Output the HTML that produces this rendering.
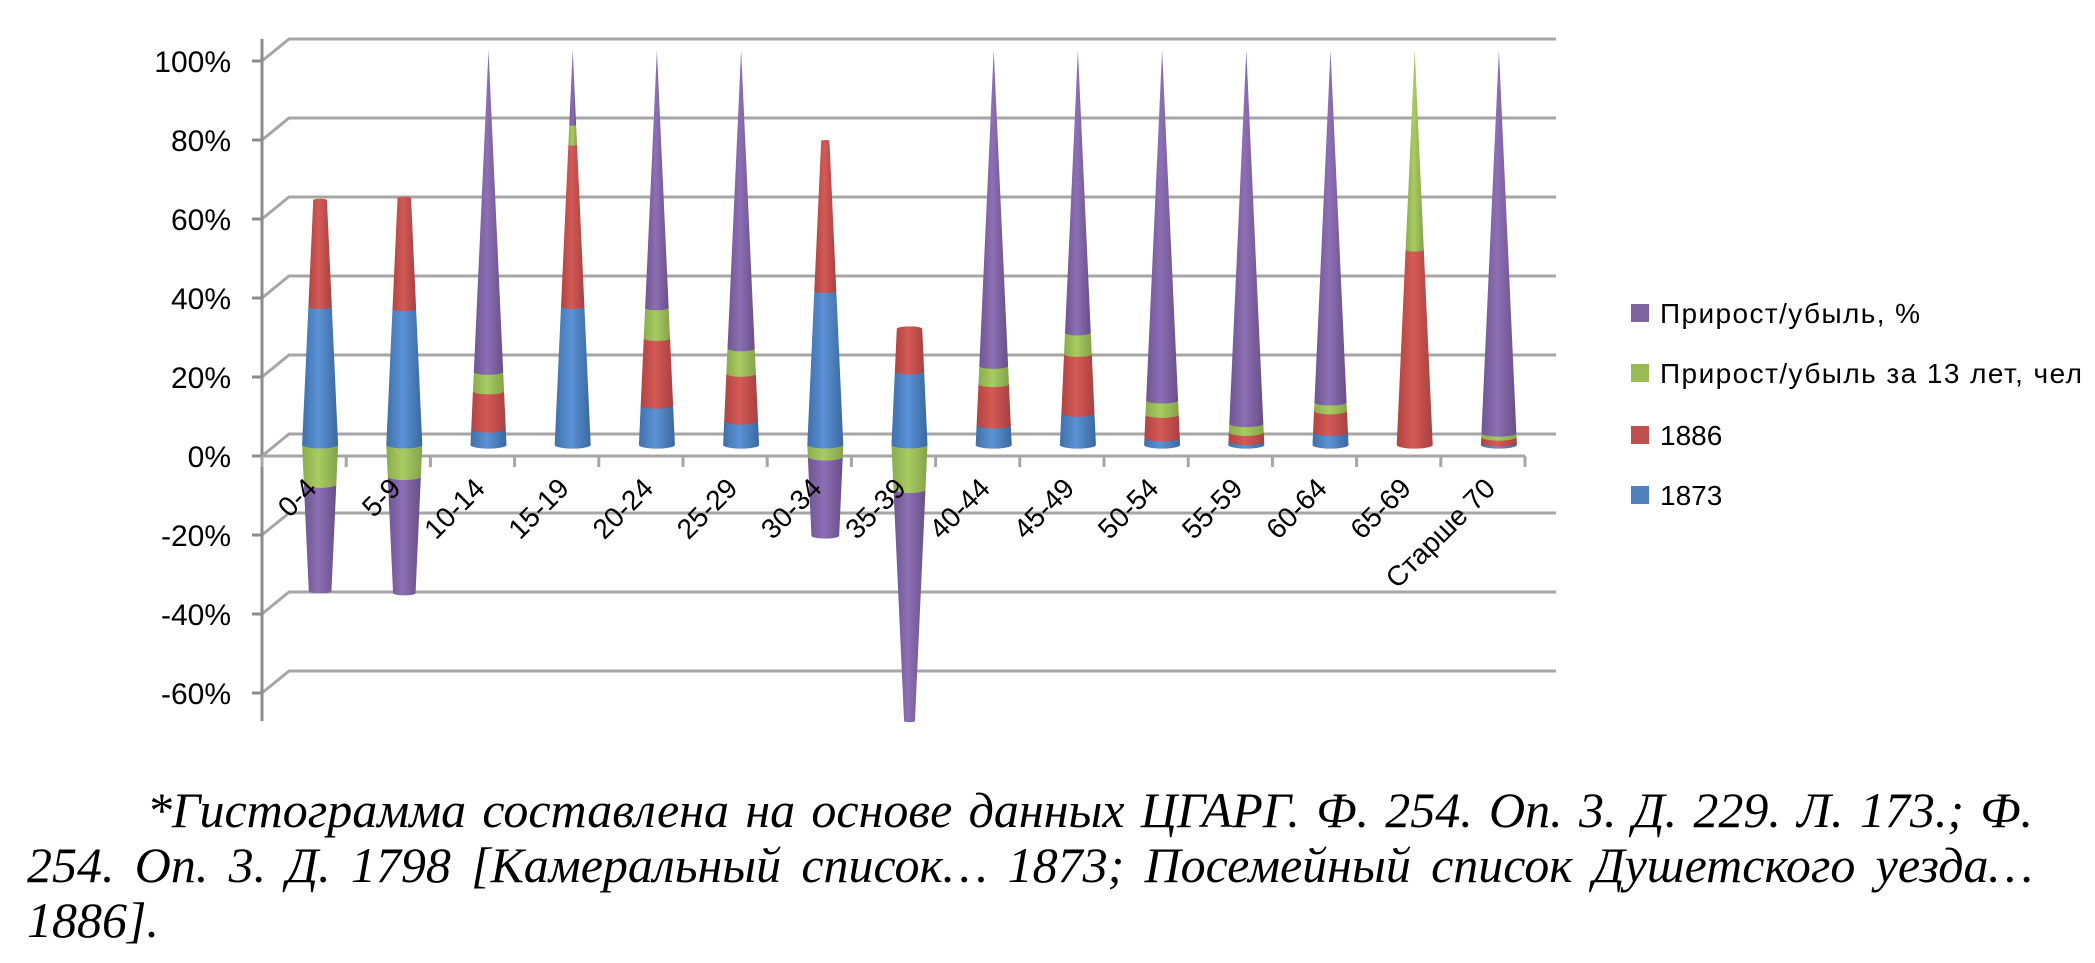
<!DOCTYPE html>
<html><head><meta charset="utf-8"><style>
html,body{margin:0;padding:0;background:#fff;}
body{width:2095px;height:963px;overflow:hidden;position:relative;}
svg{position:absolute;left:0;top:0;}
.cap{position:absolute;left:27px;top:783px;width:2006px;font-family:"Liberation Serif",serif;font-style:italic;font-size:50px;line-height:55px;color:#000;}
.cap div{white-space:nowrap;}
.j{text-align:justify;text-align-last:justify;white-space:normal!important;}
</style></head><body>
<svg id="chart" width="2095" height="780" xmlns="http://www.w3.org/2000/svg">
<defs>
<linearGradient id="gb" x1="0" x2="1"><stop offset="0" stop-color="#3f6fa8"/><stop offset="0.45" stop-color="#5b93d6"/><stop offset="1" stop-color="#3a68a0"/></linearGradient>
<linearGradient id="gr" x1="0" x2="1"><stop offset="0" stop-color="#b04441"/><stop offset="0.45" stop-color="#d45a56"/><stop offset="1" stop-color="#a84040"/></linearGradient>
<linearGradient id="gg" x1="0" x2="1"><stop offset="0" stop-color="#8aab4c"/><stop offset="0.45" stop-color="#a8cc62"/><stop offset="1" stop-color="#84a348"/></linearGradient>
<linearGradient id="gp" x1="0" x2="1"><stop offset="0" stop-color="#6e5590"/><stop offset="0.45" stop-color="#8d6fb4"/><stop offset="1" stop-color="#684f88"/></linearGradient>
</defs>
<g id="grid"></g><g id="cones"></g><g id="labels"></g><g id="legend"></g>
</svg>
<div class="cap">
<div class="j" style="padding-left:120px">*Гистограмма составлена на основе данных ЦГАРГ. Ф. 254. Оп. 3. Д. 229. Л. 173.; Ф.</div>
<div class="j">254. Оп. 3. Д. 1798 [Камеральный список… 1873; Посемейный список Душетского уезда…</div>
<div>1886].</div>
</div>
<script>
const categories=["0-4","5-9","10-14","15-19","20-24","25-29","30-34","35-39","40-44","45-49","50-54","55-59","60-64","65-69","Старше 70"];
const s1873=[35,34.5,4,35,10,6,39,18.6,5,8,1.8,0.9,3.2,0,0.5];
const s1886=[27,28,9.6,41,17,12,38,10.8,10.4,15,5.9,2.3,5.4,49.4,1.5];
const sGrowth=[-10,-8,4.9,5,7.7,6.4,-3,-11.3,4.6,5.4,3.6,2.2,2.2,50.6,1];
const sPct=[-27,-29.5,81.5,19,65.3,75.6,-20,-58.6,80,71.6,88.7,94.6,89.2,0,97];
const yTicks=[100,80,60,40,20,0,-20,-40,-60];
const seriesNames=["Прирост/убыль, %","Прирост/убыль за 13 лет, чел","1886","1873"];
const NS="http://www.w3.org/2000/svg";
function mk(t,a,p){const e=document.createElementNS(NS,t);for(const k in a)e.setAttribute(k,a[k]);p.appendChild(e);return e;}
const X0=262,X1=1525,DX=27,DY=-22,Y0=456,PX=3.95;
const yFront=v=>Y0-v*3.95;
const band=(X1-X0)/categories.length;
const cx=i=>X0+band*(i+0.5)+16;
const yCone=v=>445-v*PX;
const HW=18;
const grid=document.getElementById('grid');
yTicks.forEach(t=>{const y=yFront(t);
 const g=mk('polyline',{points:`${X0},${y} ${X0+DX},${y+DY} 1556,${y+DY}`,fill:'none',stroke:'#a6a6a6','stroke-width':3},grid);
 
 mk('line',{x1:X0-10,y1:y,x2:X0,y2:y,stroke:'#8c8c8c','stroke-width':3},grid);
 const tx=mk('text',{x:231,y:y+11,'text-anchor':'end','font-family':'Liberation Sans, sans-serif','font-size':30,fill:'#000'},grid);
 tx.textContent=t+'%';
});
mk('line',{x1:X0,y1:yFront(100)-22,x2:X0,y2:721,stroke:'#8c8c8c','stroke-width':3},grid);
const ax=mk('line',{x1:X0,y1:Y0,x2:X1,y2:Y0,stroke:'#a6a6a6','stroke-width':3},grid);

for(let i=0;i<=categories.length;i++){mk('line',{x1:X0+band*i,y1:Y0,x2:X0+band*i,y2:Y0+11,stroke:'#a6a6a6','stroke-width':3},grid);}
const cones=document.getElementById('cones');
const fills=['url(#gb)','url(#gr)','url(#gg)','url(#gp)'];
const names=['seg-1873','seg-1886','seg-growth','seg-pct'];
categories.forEach((c,i)=>{
 const vals=[s1873[i],s1886[i],sGrowth[i],sPct[i]];
 let pos=0,neg=0;const x=cx(i);
 vals.forEach((v,k)=>{ if(!v)return;
  let a,b; if(v>0){a=pos;b=pos+v;pos=b;} else {a=neg;b=neg+v;neg=b;}
  const wa=HW*(1-Math.abs(a)/100), wb=HW*(1-Math.abs(b)/100);
  const ya=yCone(a), yb=yCone(b);
  const ra=wa*0.2, rb=wb*0.2;
  let d;
  if(v>0) d=`M${x-wa},${ya} L${x-wb},${yb} A${wb},${rb} 0 0 1 ${x+wb},${yb} L${x+wa},${ya} A${wa},${ra} 0 0 1 ${x-wa},${ya} Z`;
  else d=`M${x-wa},${ya} L${x-wb},${yb} A${wb},${rb} 0 0 0 ${x+wb},${yb} L${x+wa},${ya} A${wa},${ra} 0 0 1 ${x-wa},${ya} Z`;
  const p=mk('path',{d:d,fill:fills[k]},cones);
  
  
 });
});
const labels=document.getElementById('labels');
categories.forEach((c,i)=>{const x=X0+band*(i+0.5)+14,y=490;
 const t=mk('text',{x:x,y:y,'text-anchor':'end',transform:`rotate(-45 ${x} ${y})`,'font-family':'Liberation Sans, sans-serif','font-size':28,fill:'#000'},labels);
 t.textContent=c;
});
const legend=document.getElementById('legend');
const legCols=['#8064a2','#9bbb59','#c0504d','#4f81bd'];
const legY=[313,373,435,495];
seriesNames.forEach((n,k)=>{
 const g=mk('g',{},legend);
 
 mk('rect',{x:1631,y:legY[k]-9,width:18,height:18,fill:legCols[k]},g);
 const t=mk('text',{x:1660,y:legY[k]+10,'font-family':'Liberation Sans, sans-serif','font-size':28,fill:'#000'},g);
 t.textContent=n;
 if(k==1)t.setAttribute('textLength',422);
 if(k==0)t.setAttribute('textLength',260);
});
</script>
</body></html>
